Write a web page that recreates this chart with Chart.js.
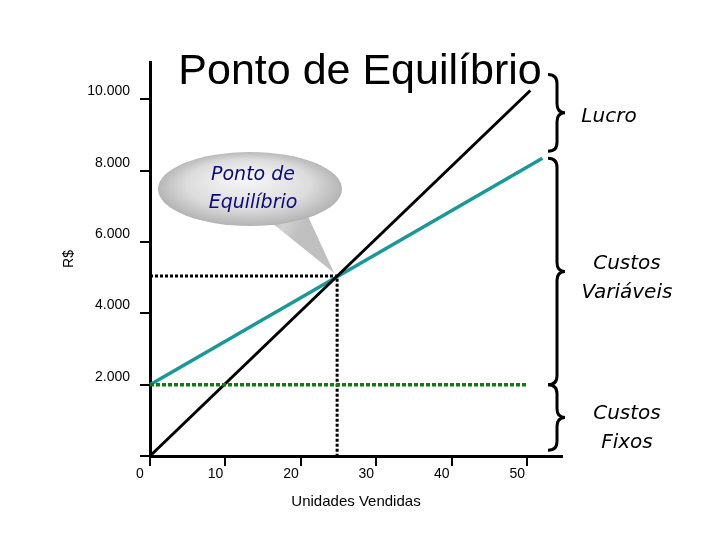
<!DOCTYPE html>
<html>
<head>
<meta charset="utf-8">
<script src="https://cdn.jsdelivr.net/npm/chart.js"></script>
<style>
  html, body { margin: 0; padding: 0; background: #fff; }
  canvas { display: block; }
</style>
</head>
<body>
<canvas id="chart" width="720" height="540"></canvas>
<script>
// valores
const unidadesReceita = [0, 50.4];
const receita = [0, 10250];
const unidadesCusto = [0, 52];
const custoTotal = [2000, 8350];
const unidadesFixo = [0, 50];
const custoFixo = [2000, 2000];
const equilibrio = [24.8, 5050];

const xTicks = [0, 10, 20, 30, 40, 50];
const yTicks = [0, 2000, 4000, 6000, 8000, 10000];
const yTickLabels = ['', '2.000', '4.000', '6.000', '8.000', '10.000'];

// faixas das chaves à direita (R$) e os rótulos
const faixas = [[10700, 8550], [8350, 2000], [2000, 160]];
const faixaTextos = [['Lucro'], ['Custos', 'Variáveis'], ['Custos', 'Fixos']];

const pts = (xs, ys) => xs.map((x, i) => ({ x, y: ys[i] }));

function chave(ctx, x, y1, y2) {
  const ym = (y1 + y2) / 2;
  const r = 9;
  ctx.beginPath();
  ctx.moveTo(x - 9, y1);
  ctx.quadraticCurveTo(x, y1, x, y1 + r);
  ctx.lineTo(x, ym - r);
  ctx.quadraticCurveTo(x, ym, x + 8, ym);
  ctx.quadraticCurveTo(x, ym, x, ym + r);
  ctx.lineTo(x, y2 - r);
  ctx.quadraticCurveTo(x, y2, x - 9, y2);
  ctx.stroke();
}

const decor = {
  id: 'decor',
  beforeDatasetsDraw(chart) {
    const { ctx, scales: { x, y } } = chart;
    const tx = x.getPixelForValue(equilibrio[0]);
    const ty = y.getPixelForValue(equilibrio[1]);
    const cx = 250, cy = 189, rx = 92, ry = 37, k = ry / rx;
    ctx.save();

    // cauda do balão
    ctx.beginPath();
    ctx.moveTo(262, 215);
    ctx.lineTo(tx - 3, ty - 3);
    ctx.lineTo(306, 212);
    ctx.closePath();
    const gt = ctx.createLinearGradient(270, 215, 300, 230);
    gt.addColorStop(0, '#b4b4b4');
    gt.addColorStop(0.5, '#d2d2d2');
    gt.addColorStop(1, '#c0c0c0');
    ctx.fillStyle = gt;
    ctx.fill();

    // elipse
    ctx.translate(cx, cy);
    ctx.scale(1, k);
    ctx.beginPath();
    ctx.ellipse(0, 0, rx, rx, 0, 0, Math.PI * 2);
    const g = ctx.createRadialGradient(-5, -30, 5, 0, 0, 100);
    g.addColorStop(0, '#f6f6f6');
    g.addColorStop(0.6, '#dcdcdc');
    g.addColorStop(1, '#ababab');
    ctx.fillStyle = g;
    ctx.fill();
    ctx.restore();

    ctx.save();
    ctx.fillStyle = '#0a0a80';
    ctx.font = 'italic 19px "DejaVu Sans"';
    ctx.textAlign = 'center';
    ctx.textBaseline = 'middle';
    ctx.fillText('Ponto de', 253, 175);
    ctx.fillText('Equilíbrio', 253, 203);
    ctx.restore();
  },
  afterDraw(chart) {
    const { ctx, scales: { y } } = chart;
    ctx.save();
    ctx.fillStyle = '#000';
    ctx.font = '43px "Liberation Sans"';
    ctx.textAlign = 'center';
    ctx.textBaseline = 'alphabetic';
    ctx.fillText('Ponto de Equilíbrio', 360, 84);

    ctx.strokeStyle = '#000';
    ctx.lineWidth = 3;
    ctx.font = 'italic 20px "DejaVu Sans"';
    ctx.textBaseline = 'middle';
    faixas.forEach((f, i) => {
      const y1 = y.getPixelForValue(f[0]);
      const y2 = y.getPixelForValue(f[1]);
      chave(ctx, 557, y1, y2);
      const linhas = faixaTextos[i];
      const ym = (y1 + y2) / 2;
      linhas.forEach((t, j) => {
        const off = (j - (linhas.length - 1) / 2) * 29;
        ctx.fillText(t, i === 0 ? 609 : 627, (i === 0 ? ym + 4 : ym + off + 7) + (i === 2 ? 4 : 0));
      });
    });
    ctx.restore();
  }
};

const tickFont = { family: '"Liberation Sans"', size: 14 };

new Chart(document.getElementById('chart'), {
  type: 'scatter',
  data: {
    datasets: [
      {
        label: 'Custos Fixos',
        data: pts(unidadesFixo, custoFixo),
        showLine: true,
        borderColor: '#137a13',
        borderWidth: 3.5,
        borderDash: [4, 2],
        pointRadius: 0,
        clip: false
      },
      {
        label: 'Receita',
        data: pts(unidadesReceita, receita),
        showLine: true,
        borderColor: '#000',
        borderWidth: 3,
        pointRadius: 0,
        clip: false
      },
      {
        label: 'Custo Total',
        data: pts(unidadesCusto, custoTotal),
        showLine: true,
        borderColor: '#1a9898',
        borderWidth: 3.5,
        pointRadius: 0,
        clip: false
      },
      {
        label: 'Equilíbrio',
        data: [
          { x: 0, y: equilibrio[1] },
          { x: equilibrio[0], y: equilibrio[1] },
          { x: equilibrio[0], y: 0 }
        ],
        showLine: true,
        borderColor: '#000',
        borderWidth: 3,
        borderDash: [3, 2],
        pointRadius: 0,
        clip: false
      }
    ]
  },
  options: {
    responsive: false,
    animation: false,
    layout: { padding: { top: 62, right: 158, left: 0, bottom: 0 } },
    plugins: {
      legend: { display: false },
      tooltip: { enabled: false }
    },
    scales: {
      x: {
        type: 'linear',
        min: 0,
        max: 54.6,
        afterBuildTicks: (s) => { s.ticks = xTicks.map((v) => ({ value: v })); },
        afterFit: (s) => { s.height = 84; },
        grid: { drawOnChartArea: false, drawTicks: true, tickLength: 10, color: '#000', lineWidth: 2 },
        border: { color: '#000', width: 3 },
        ticks: {
          color: '#000',
          font: tickFont,
          padding: 0,
          labelOffset: -10,
          maxRotation: 0,
          callback: (v) => String(v)
        },
        title: {
          display: true,
          text: 'Unidades Vendidas',
          color: '#000',
          font: { family: '"Liberation Sans"', size: 15 },
          padding: { top: 0, bottom: 29 }
        }
      },
      y: {
        type: 'linear',
        min: 0,
        max: 11050,
        afterBuildTicks: (s) => { s.ticks = yTicks.map((v) => ({ value: v })); },
        afterFit: (s) => { s.width = 150; },
        grid: { drawOnChartArea: false, drawTicks: true, tickLength: 10, color: '#000', lineWidth: 2 },
        border: { color: '#000', width: 3 },
        ticks: {
          color: '#000',
          font: tickFont,
          padding: 10,
          labelOffset: -8,
          callback: (v, i) => yTickLabels[i]
        },
        title: {
          display: true,
          text: 'R$',
          color: '#000',
          font: { family: '"Liberation Sans"', size: 14 },
          padding: { top: 61, bottom: 0 }
        }
      }
    }
  },
  plugins: [decor]
});
</script>
</body>
</html>
